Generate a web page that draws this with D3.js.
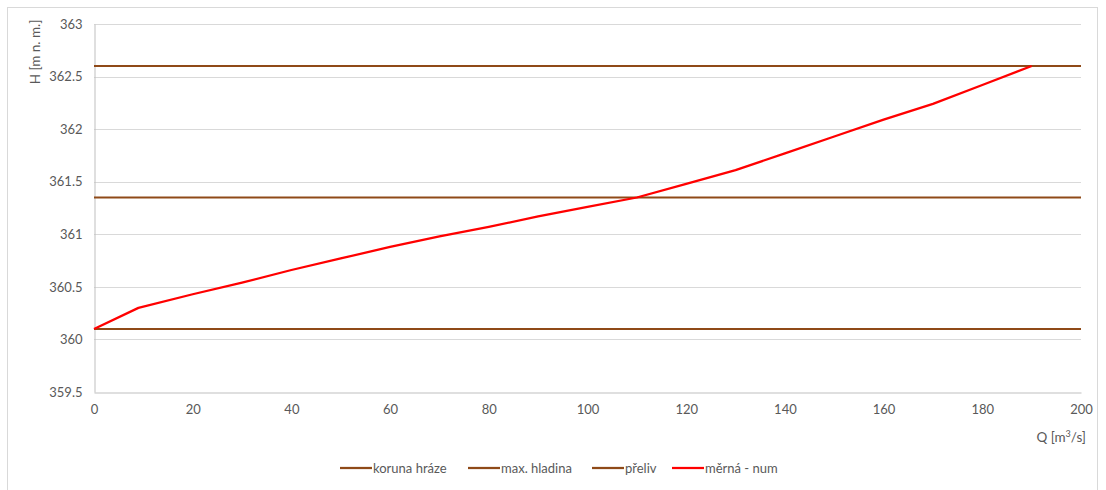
<!DOCTYPE html>
<html><head><meta charset="utf-8">
<script src="https://cdn.jsdelivr.net/npm/d3@7"></script>
<style>
body{margin:0;background:#fff;}
text{font-family:"Lato","Open Sans",sans-serif;fill:#595959;}
</style></head>
<body><svg id="c" width="1106" height="490"></svg>
<script>
const qValues = [0, 9, 20, 30, 40, 50, 60, 70, 80, 90, 100, 110, 120, 130, 140, 150, 160, 170, 180, 190];
const hValues = [360.1, 360.3, 360.43, 360.54, 360.66, 360.77, 360.88, 360.98, 361.07, 361.17, 361.26, 361.35, 361.48, 361.61, 361.77, 361.93, 362.09, 362.24, 362.42, 362.6];
const levelNames = ["koruna hráze", "max. hladina", "přeliv"];
const levelValues = [362.6, 361.35, 360.1];
const curveName = "měrná - num";
const xTicks = [0, 20, 40, 60, 80, 100, 120, 140, 160, 180, 200];
const yTicks = [359.5, 360, 360.5, 361, 361.5, 362, 362.5, 363];

(function () {
const svg = d3.select("#c");
const pl = 94, pr = 1081, pt = 24, pb = 392;
const x = d3.scaleLinear().domain([0, 200]).range([pl, pr]);
const y = d3.scaleLinear().domain([359.5, 363]).range([pb, pt]);

// outer border
svg.append("rect").attr("x", 7.5).attr("y", 7.5).attr("width", 1090).attr("height", 490)
  .attr("fill", "none").attr("stroke", "#d9d9d9");

// gridlines
svg.append("g").selectAll("line").data(yTicks.slice(1)).join("line")
  .attr("x1", pl).attr("x2", pr)
  .attr("y1", d => Math.round(y(d)) + 0.5).attr("y2", d => Math.round(y(d)) + 0.5)
  .attr("stroke", "#d9d9d9").attr("stroke-width", 1);

// axes
const yAxis = d3.axisLeft(y).tickValues(yTicks).tickSize(0).tickPadding(12).tickFormat(d3.format(""));
const gy = svg.append("g").attr("transform", `translate(${pl + 0.5},0)`).call(yAxis);
gy.select(".domain").attr("stroke", "#bfbfbf");
gy.selectAll("text").style("font-size", "13px").attr("fill", "#595959");

const xAxis = d3.axisBottom(x).tickValues(xTicks).tickSize(0).tickPadding(12).tickFormat(d3.format(""));
const gx = svg.append("g").attr("transform", `translate(0,${pb + 0.5})`).call(xAxis);
gx.select(".domain").attr("stroke", "#bfbfbf");
gx.selectAll("text").style("font-size", "13px").attr("fill", "#595959");

// level lines
const brown = "#8f4a18";
svg.append("g").selectAll("line").data(levelValues).join("line")
  .attr("x1", pl).attr("x2", pr)
  .attr("y1", d => y(d)).attr("y2", d => y(d))
  .attr("stroke", brown).attr("stroke-width", 2);

// curve
const pts = qValues.map((q, i) => [q, hValues[i]]);
svg.append("path").datum(pts)
  .attr("d", d3.line().x(d => x(d[0])).y(d => y(d[1])))
  .attr("fill", "none").attr("stroke", "#ff0000").attr("stroke-width", 2.25)
  .attr("stroke-linejoin", "round");

// axis titles
svg.append("text").attr("transform", "translate(40,52) rotate(-90)")
  .attr("text-anchor", "middle").style("font-size", "13.5px").text("H [m n. m.]");
const qt = svg.append("text").attr("x", 1086).attr("y", 442).attr("text-anchor", "end").style("font-size", "13.5px");
qt.append("tspan").text("Q [m");
qt.append("tspan").attr("baseline-shift", "super").style("font-size", "9px").text("3");
qt.append("tspan").text("/s]");

// legend
const legendItems = levelNames.map(n => ({name: n, color: brown})).concat([{name: curveName, color: "#ff0000"}]);
const legendX = [340, 468, 592, 672];
const lg = svg.append("g").selectAll("g").data(legendItems).join("g")
  .attr("transform", (d, i) => `translate(${legendX[i]},468)`);
lg.append("line").attr("x1", 0).attr("x2", 32).attr("stroke", d => d.color).attr("stroke-width", 2.25);
lg.append("text").attr("x", 33).attr("y", 4.5).style("font-size", "13px").text(d => d.name);
})();
</script></body></html>
